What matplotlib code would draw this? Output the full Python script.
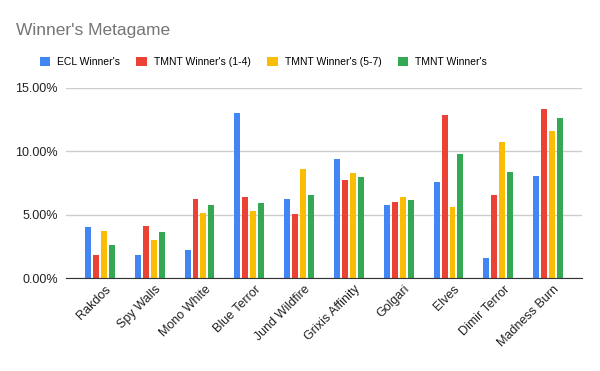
import matplotlib
matplotlib.use("Agg")
import matplotlib.pyplot as plt
import numpy as np
from matplotlib.ticker import FuncFormatter
from matplotlib.patches import Patch

# decks on the x axis
decks = ["Rakdos", "Spy Walls", "Mono White", "Blue Terror", "Jund Wildfire",
         "Grixis Affinity", "Golgari", "Elves", "Dimir Terror", "Madness Burn"]

# share of the metagame in percent
ecl = [4.04, 1.84, 2.23, 13.0, 6.25, 9.40, 5.78, 7.59, 1.60, 8.06]
tmnt_1_4 = [1.84, 4.12, 6.25, 6.41, 5.07, 7.75, 6.01, 12.87, 6.56, 13.34]
tmnt_5_7 = [3.73, 3.02, 5.15, 5.30, 8.61, 8.30, 6.41, 5.62, 10.74, 11.61]
tmnt_all = [2.62, 3.65, 5.78, 5.93, 6.56, 7.98, 6.17, 9.80, 8.38, 12.63]

series = [ecl, tmnt_1_4, tmnt_5_7, tmnt_all]
names = ["ECL Winner's", "TMNT Winner's (1-4)", "TMNT Winner's (5-7)", "TMNT Winner's"]
colors = ["#4285F4", "#EA4335", "#FBBC04", "#34A853"]

plt.rcParams['font.family'] = ['Liberation Sans', 'DejaVu Sans']

fig = plt.figure(figsize=(6, 3.71), dpi=100)
ax = fig.add_axes([0.11, 0.25, 0.86, 0.513])

x = np.arange(len(decks))
step = 0.16
width = 0.12
for i, vals in enumerate(series):
    ax.bar(x + (i - 1.5) * step, vals, width, color=colors[i], zorder=3)

ax.set_xlim(-0.68, len(decks) - 1 + 0.68)
ax.set_ylim(0, 15)
ax.set_yticks([0, 5, 10, 15])
ax.yaxis.set_major_formatter(FuncFormatter(lambda v, p: "%.2f%%" % v))
ax.grid(axis='y', color='#cccccc', linewidth=1, zorder=0)
for s in ['top', 'right', 'left']:
    ax.spines[s].set_visible(False)
ax.spines['bottom'].set_color('#333333')
ax.spines['bottom'].set_zorder(4)
ax.tick_params(axis='both', length=0, labelsize=9, colors='#222222')
ax.tick_params(axis='y', pad=6)
ax.set_xticks(x + 0.1)
ax.set_xticklabels(decks, rotation=45, ha='right', rotation_mode='anchor')

fig.text(0.027, 1 - 30 / 371, "Winner's Metagame", fontsize=12.5, color='#757575',
         va='center', ha='left')

handles = [Patch(facecolor=c, edgecolor='none') for c in colors]
fig.legend(handles, names, loc='center left', bbox_to_anchor=(0.066, 1 - 62 / 371),
           ncol=4, frameon=False, fontsize=7.5, handlelength=1.0, handleheight=1.0,
           handletextpad=0.7, columnspacing=1.55, borderpad=0, borderaxespad=0)

fig.savefig("out.png", dpi=100)
